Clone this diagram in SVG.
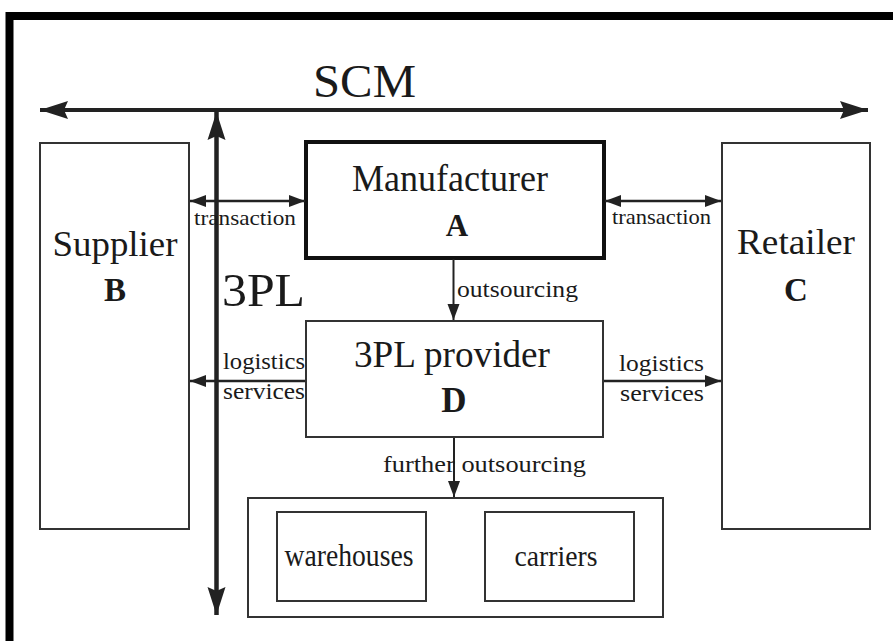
<svg xmlns="http://www.w3.org/2000/svg" width="893" height="641" viewBox="0 0 893 641">
<style>
.t{font-family:"Liberation Serif","Times New Roman",serif;fill:#1a1a1a}
.b{font-weight:bold}
.box{fill:#fff;stroke:#333;stroke-width:2}
.ln{stroke:#222;fill:none}
</style>
<defs>
<marker id="big" markerUnits="userSpaceOnUse" markerWidth="30" markerHeight="22" refX="28" refY="10" orient="auto-start-reverse"><path d="M0,1 L28,10 L0,19 L4,10 z" fill="#222"/></marker>
<marker id="sm" markerUnits="userSpaceOnUse" markerWidth="18" markerHeight="14" refX="16" refY="6" orient="auto-start-reverse"><path d="M0,0 L16,6 L0,12 z" fill="#222"/></marker>
</defs>
<rect width="893" height="641" fill="#fff"/>
<g id="frame">
<path d="M9.5,641 V16 H893" fill="none" stroke="#000" stroke-width="8"/>
</g>
<g id="supplier">
<rect class="box" x="40" y="143" width="149" height="386"/>
<text class="t" x="115" y="256" font-size="36" text-anchor="middle" textLength="125" lengthAdjust="spacingAndGlyphs">Supplier</text>
<text class="t b" x="115" y="301" font-size="33" text-anchor="middle">B</text>
</g>
<g id="retailer">
<rect class="box" x="722" y="143" width="148" height="386"/>
<text class="t" x="796" y="254" font-size="36" text-anchor="middle" textLength="118" lengthAdjust="spacingAndGlyphs">Retailer</text>
<text class="t b" x="796" y="301" font-size="33" text-anchor="middle">C</text>
</g>
<g id="manufacturer">
<rect x="306" y="142" width="298" height="116" fill="#fff" stroke="#111" stroke-width="4"/>
<text class="t" x="450" y="191" font-size="37" text-anchor="middle" textLength="196" lengthAdjust="spacingAndGlyphs">Manufacturer</text>
<text class="t b" x="457" y="236" font-size="31" text-anchor="middle">A</text>
</g>
<g id="provider">
<rect class="box" x="306" y="321" width="297" height="116"/>
<text class="t" x="452" y="367" font-size="37" text-anchor="middle" textLength="196" lengthAdjust="spacingAndGlyphs">3PL provider</text>
<text class="t b" x="454" y="412" font-size="35" text-anchor="middle">D</text>
</g>
<g id="subcontractors">
<rect class="box" x="248" y="498" width="415" height="119"/>
</g>
<g id="warehouses">
<rect class="box" x="277" y="512" width="149" height="89"/>
<text class="t" x="349" y="566" font-size="31" text-anchor="middle" textLength="129" lengthAdjust="spacingAndGlyphs">warehouses</text>
</g>
<g id="carriers">
<rect class="box" x="485" y="512" width="149" height="89"/>
<text class="t" x="556" y="566" font-size="30" text-anchor="middle" textLength="83" lengthAdjust="spacingAndGlyphs">carriers</text>
</g>
<g id="connectors">
<line class="ln" x1="40" y1="110" x2="868" y2="110" stroke-width="4" marker-start="url(#big)" marker-end="url(#big)"/>
<line class="ln" x1="216.5" y1="112" x2="216.5" y2="615" stroke-width="4.5" marker-start="url(#big)" marker-end="url(#big)"/>
<line class="ln" x1="190" y1="201" x2="305" y2="201" stroke-width="2.5" marker-start="url(#sm)" marker-end="url(#sm)"/>
<line class="ln" x1="605" y1="201" x2="721" y2="201" stroke-width="2.5" marker-start="url(#sm)" marker-end="url(#sm)"/>
<line class="ln" x1="453.5" y1="259" x2="453.5" y2="320" stroke-width="2" marker-end="url(#sm)"/>
<line class="ln" x1="305" y1="381" x2="190" y2="381" stroke-width="2.5" marker-end="url(#sm)"/>
<line class="ln" x1="604" y1="381" x2="721" y2="381" stroke-width="2.5" marker-end="url(#sm)"/>
<line class="ln" x1="454" y1="438" x2="454" y2="497" stroke-width="2" marker-end="url(#sm)"/>
</g>
<g id="labels">
<text class="t" x="313" y="97" font-size="47" textLength="103" lengthAdjust="spacingAndGlyphs">SCM</text>
<text class="t" x="222" y="306" font-size="47" textLength="83" lengthAdjust="spacingAndGlyphs">3PL</text>
<text class="t" x="194" y="225" font-size="22" textLength="102" lengthAdjust="spacingAndGlyphs">transaction</text>
<text class="t" x="612" y="224" font-size="22" textLength="99" lengthAdjust="spacingAndGlyphs">transaction</text>
<text class="t" x="457" y="297" font-size="23" textLength="121" lengthAdjust="spacingAndGlyphs">outsourcing</text>
<text class="t" x="223" y="369" font-size="23" textLength="82" lengthAdjust="spacingAndGlyphs">logistics</text>
<text class="t" x="223" y="399" font-size="23" textLength="82" lengthAdjust="spacingAndGlyphs">services</text>
<text class="t" x="619" y="371" font-size="23" textLength="85" lengthAdjust="spacingAndGlyphs">logistics</text>
<text class="t" x="620" y="401" font-size="23" textLength="84" lengthAdjust="spacingAndGlyphs">services</text>
<text class="t" x="383" y="472" font-size="23" textLength="203" lengthAdjust="spacingAndGlyphs">further outsourcing</text>
</g>
</svg>
